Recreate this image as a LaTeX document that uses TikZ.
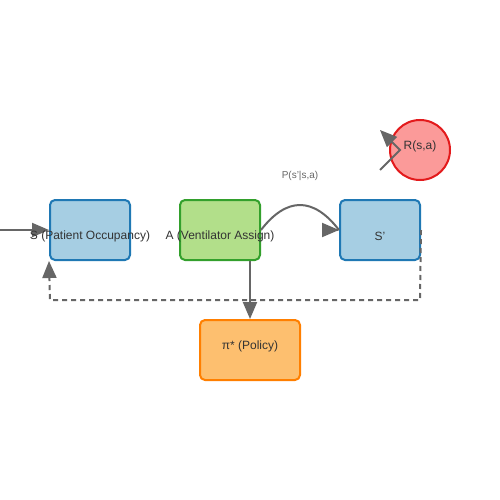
\documentclass[tikz,border=0pt]{standalone}
\usepackage{fontspec}
\setmainfont{Liberation Sans}
\usetikzlibrary{arrows.meta}
\definecolor{sfill}{HTML}{A6CEE3}\definecolor{sdraw}{HTML}{1F78B4}
\definecolor{afill}{HTML}{B2DF8A}\definecolor{adraw}{HTML}{33A02C}
\definecolor{pfill}{HTML}{FDBF6F}\definecolor{pdraw}{HTML}{FF7F00}
\definecolor{rfill}{HTML}{FB9A99}\definecolor{rdraw}{HTML}{E31A1C}
\definecolor{txt}{HTML}{333333}\definecolor{ln}{HTML}{666666}
\tikzset{
  box/.style={draw, line width=2pt, rounded corners=5pt, minimum width=80pt, minimum height=60pt, inner sep=0pt},
  lbl/.style={text=txt, font=\fontsize{12}{14}\selectfont, inner sep=0pt},
  conn/.style={draw=ln, line width=2pt, -{Triangle[length=17pt,width=14pt]}},
}
\begin{document}
\begin{tikzpicture}[x=1pt,y=-1pt]
\useasboundingbox (0,0) rectangle (500,500);
\fill[white] (0,0) rectangle (500,500);
\node[box, fill=sfill, draw=sdraw] (s) at (90,230) {};
\node[box, fill=afill, draw=adraw] (a) at (220,230) {};
\node[box, fill=sfill, draw=sdraw] (sp) at (380,230) {};
\node[box, fill=pfill, draw=pdraw, minimum width=100pt] (pi) at (250,350) {};
\node[circle, draw=rdraw, fill=rfill, line width=2pt, minimum size=60pt, inner sep=0pt] (r) at (420,150) {};
\coordinate (in) at (0,230);
\coordinate (rb) at (380,170);
\coordinate (rm) at (400,150);
\coordinate (rt) at (380,130);
\draw[conn] (in) -- (s.west);
\draw[draw=ln, line width=2pt] (a.east) .. controls (286.67,196.67) and (313.33,196.67) .. (sp.west);
\draw[conn] ([xshift=-1pt]sp.west) -- (sp.west);
\draw[conn] ([xshift=30pt]a.south) -- (pi.north);
\draw[conn, dash pattern=on 5pt off 4pt] (sp.east) -- (420,300) -- (50,300) -- (s.south west);
\draw[conn] (rb) -- (rm) -- (rt);
\node[lbl] at (90,236) {S (Patient Occupancy)};
\node[lbl] at (220,236) {A (Ventilator Assign)};
\node[lbl] at (380,236) {S'};
\node[lbl] at (250,346) {π* (Policy)};
\node[lbl] at (420,146) {R(s,a)};
\node[text=ln, font=\fontsize{10}{12}\selectfont, inner sep=0pt] at (300,176) {P(s'|s,a)};
\end{tikzpicture}
\end{document}
